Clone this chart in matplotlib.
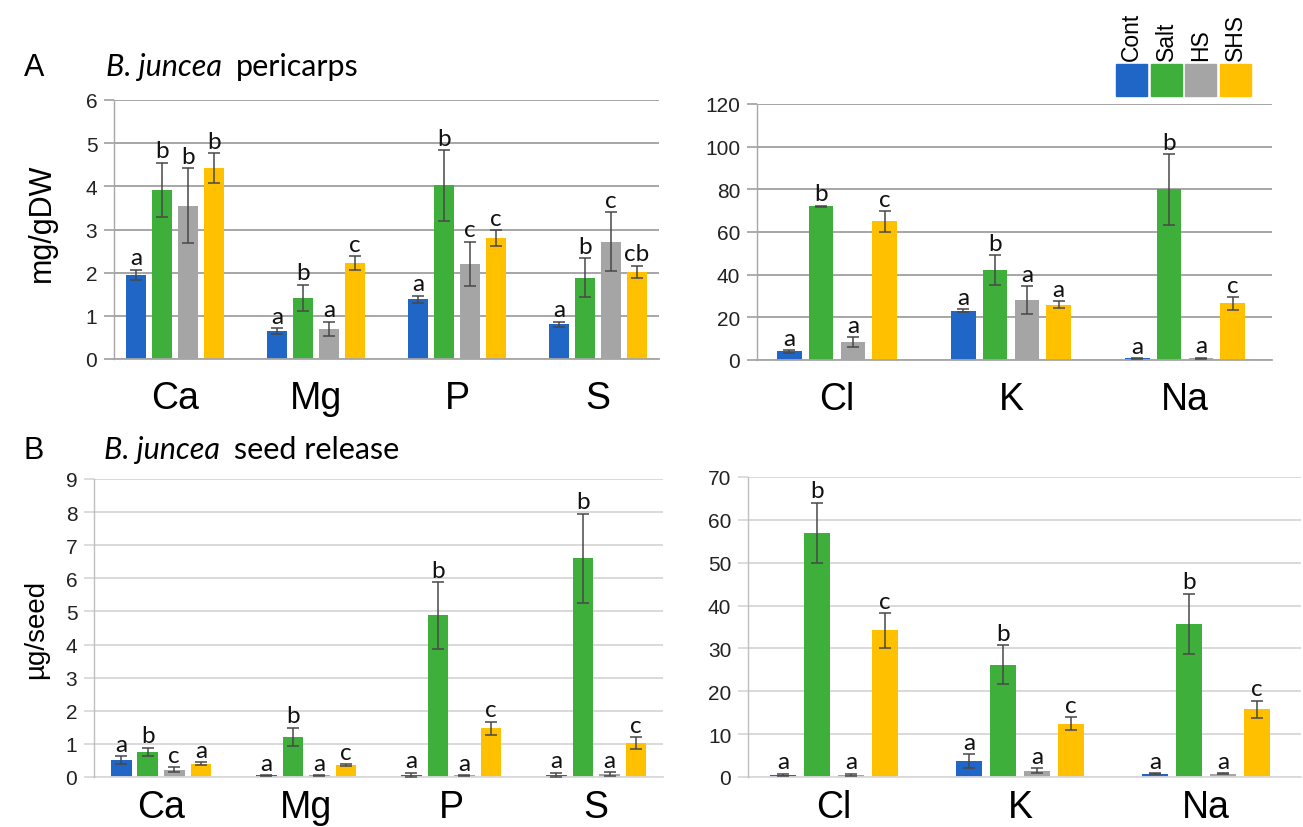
"""B. juncea pericarp / seed-release element contents, four treatments, 2x2 bar panels."""

import matplotlib
matplotlib.use("Agg")
import matplotlib.pyplot as plt  # noqa: E402
from matplotlib.patches import Rectangle  # noqa: E402
import numpy as np  # noqa: E402

CONDITIONS = ["Cont", "Salt", "HS", "SHS"]
COLORS = ["#1f66c6", "#3eaf3a", "#a5a5a5", "#ffc000"]

# ---- A: pericarps, mg/gDW  (rows = element, cols = Cont, Salt, HS, SHS)
A_MAJOR = ["Ca", "Mg", "P", "S"]
A_MAJOR_MEAN = [[1.95, 3.92, 3.55, 4.42],
                [0.65, 1.42, 0.70, 2.22],
                [1.38, 4.02, 2.20, 2.80],
                [0.80, 1.88, 2.72, 2.02]]
A_MAJOR_ERR = [[0.12, 0.63, 0.87, 0.35],
               [0.06, 0.30, 0.16, 0.16],
               [0.09, 0.82, 0.52, 0.18],
               [0.06, 0.45, 0.68, 0.14]]
A_MAJOR_LET = [["a", "b", "b", "b"],
               ["a", "b", "a", "c"],
               ["a", "b", "c", "c"],
               ["a", "b", "c", "cb"]]

A_MINOR = ["Cl", "K", "Na"]
A_MINOR_MEAN = [[4.0, 72.0, 8.5, 65.0],
                [23.0, 42.0, 28.0, 26.0],
                [0.8, 80.0, 0.8, 26.5]]
A_MINOR_ERR = [[0.6, 0.3, 2.2, 4.8],
               [0.7, 7.0, 6.5, 1.5],
               [0.1, 16.5, 0.2, 3.0]]
A_MINOR_LET = [["a", "b", "a", "c"],
               ["a", "b", "a", "a"],
               ["a", "b", "a", "c"]]

# ---- B: seed release, ug/seed
B_MAJOR = ["Ca", "Mg", "P", "S"]
B_MAJOR_MEAN = [[0.50, 0.75, 0.22, 0.40],
                [0.05, 1.22, 0.05, 0.36],
                [0.07, 4.88, 0.05, 1.47],
                [0.07, 6.60, 0.08, 1.03]]
B_MAJOR_ERR = [[0.12, 0.13, 0.08, 0.05],
               [0.01, 0.27, 0.01, 0.03],
               [0.06, 1.00, 0.01, 0.20],
               [0.06, 1.35, 0.06, 0.17]]
B_MAJOR_LET = [["a", "b", "c", "a"],
               ["a", "b", "a", "c"],
               ["a", "b", "a", "c"],
               ["a", "b", "a", "c"]]

B_MINOR = ["Cl", "K", "Na"]
B_MINOR_MEAN = [[0.5, 57.0, 0.5, 34.2],
                [3.7, 26.2, 1.5, 12.4],
                [0.8, 35.8, 0.8, 15.8]]
B_MINOR_ERR = [[0.3, 7.0, 0.3, 4.0],
               [1.6, 4.5, 0.5, 1.5],
               [0.1, 7.0, 0.1, 2.0]]
B_MINOR_LET = [["a", "b", "a", "c"],
               ["a", "b", "a", "c"],
               ["a", "b", "a", "c"]]

ARIAL = "Liberation Sans"
CALIBRI = "Lato"
W, H = 1303, 828


def _rect(left, right, top, bottom):
    """pixel box -> figure fraction [l, b, w, h]"""
    return [left / W, 1 - bottom / H, (right - left) / W, (bottom - top) / H]


def draw_panel(ax, cats, means, errs, letters, ymax, ystep, xlim, grid_c, spine_c, xpad):
    x = np.arange(len(cats))
    width, step = 0.142, 0.183
    means = np.asarray(means)
    errs = np.asarray(errs)
    ax.set_axisbelow(True)
    for i, c in enumerate(COLORS):
        xs = x + (i - 1.5) * step
        ax.bar(xs, means[:, i], width, color=c, zorder=2)
        ax.errorbar(xs, means[:, i], yerr=errs[:, i], fmt="none", ecolor="#484848",
                    elinewidth=1.1, capsize=4.5, capthick=1.1, zorder=3)
        for xx, m, e, lab in zip(xs, means[:, i], errs[:, i], [r[i] for r in letters]):
            ax.annotate(lab, (xx, m + e), xytext=(0, 1.0), textcoords="offset points",
                        ha="center", va="bottom", fontsize=17.5, family=CALIBRI, color="#111")
    ax.set_xlim(*xlim)
    ax.set_ylim(0, ymax)
    ax.set_yticks(np.arange(0, ymax + ystep / 2, ystep))
    ax.yaxis.grid(True, color=grid_c, lw=1.4, zorder=0)
    ax.set_xticks(x)
    ax.set_xticklabels(cats, fontsize=27, family=ARIAL)
    ax.tick_params(axis="x", length=0, pad=xpad)
    ax.tick_params(axis="y", length=7, color=grid_c, width=1.3, labelsize=15, pad=5,
                   labelcolor="#222")
    for lab in ax.get_yticklabels():
        lab.set_family(ARIAL)
    for s in ("top", "right"):
        ax.spines[s].set_visible(False)
    ax.spines["left"].set_color(spine_c)
    ax.spines["bottom"].set_color(grid_c)
    ax.spines["left"].set_linewidth(1.0)
    ax.spines["bottom"].set_linewidth(1.3)
    ax.spines["left"].set_zorder(4)


def title(fig, x_px, base_px, text):
    t1 = fig.text(x_px / W, 1 - base_px / H, "B. juncea", fontsize=22, family=CALIBRI,
                  style="italic", va="baseline")
    fig.canvas.draw()
    bb = t1.get_window_extent()
    fig.text((bb.x1 + 14) / W, 1 - base_px / H, text, fontsize=22, family=CALIBRI,
             va="baseline")


fig = plt.figure(figsize=(W / 100, H / 100), dpi=100)

ax = fig.add_axes(_rect(114, 659, 101, 360))
draw_panel(ax, A_MAJOR, A_MAJOR_MEAN, A_MAJOR_ERR, A_MAJOR_LET, 6, 1, (-0.433, 3.433),
           "#a6a6a6", "#a6a6a6", 15)
ax.set_ylabel("mg/gDW", fontsize=22, family=ARIAL)
ax.yaxis.set_label_coords(-0.105, 0.53)

ax = fig.add_axes(_rect(757, 1272, 105, 361))
draw_panel(ax, A_MINOR, A_MINOR_MEAN, A_MINOR_ERR, A_MINOR_LET, 120, 20, (-0.46, 2.5),
           "#a6a6a6", "#a6a6a6", 15)

ax = fig.add_axes(_rect(94, 663, 480, 778))
draw_panel(ax, B_MAJOR, B_MAJOR_MEAN, B_MAJOR_ERR, B_MAJOR_LET, 9, 1, (-0.462, 3.46),
           "#d9d9d9", "#bfbfbf", 9)
ax.set_ylabel("µg/seed", fontsize=20, family=ARIAL, labelpad=12)

ax = fig.add_axes(_rect(748, 1301, 478, 778))
draw_panel(ax, B_MINOR, B_MINOR_MEAN, B_MINOR_ERR, B_MINOR_LET, 70, 10, (-0.462, 2.51),
           "#d9d9d9", "#bfbfbf", 9)

# panel letters + titles
fig.text(24 / W, 1 - 76 / H, "A", fontsize=22, family=ARIAL, va="baseline")
fig.text(24 / W, 1 - 459 / H, "B", fontsize=22, family=ARIAL, va="baseline")
title(fig, 106, 76, "pericarps")
title(fig, 104, 459, "seed release")

# treatment key, top right
key_left, key_w, key_gap, key_top, key_bot = 1116, 31, 3.5, 65, 97
for i, (name, c) in enumerate(zip(CONDITIONS, COLORS)):
    l = key_left + i * (key_w + key_gap)
    fig.patches.append(Rectangle((l / W, 1 - key_bot / H), key_w / W, (key_bot - key_top) / H,
                                 transform=fig.transFigure, color=c, zorder=5))
    fig.text((l + key_w / 2) / W, 1 - (key_top - 4) / H, name, rotation=90, ha="center",
             va="bottom", fontsize=16.5, family=ARIAL)

fig.savefig("out.png", dpi=100, facecolor="white")
